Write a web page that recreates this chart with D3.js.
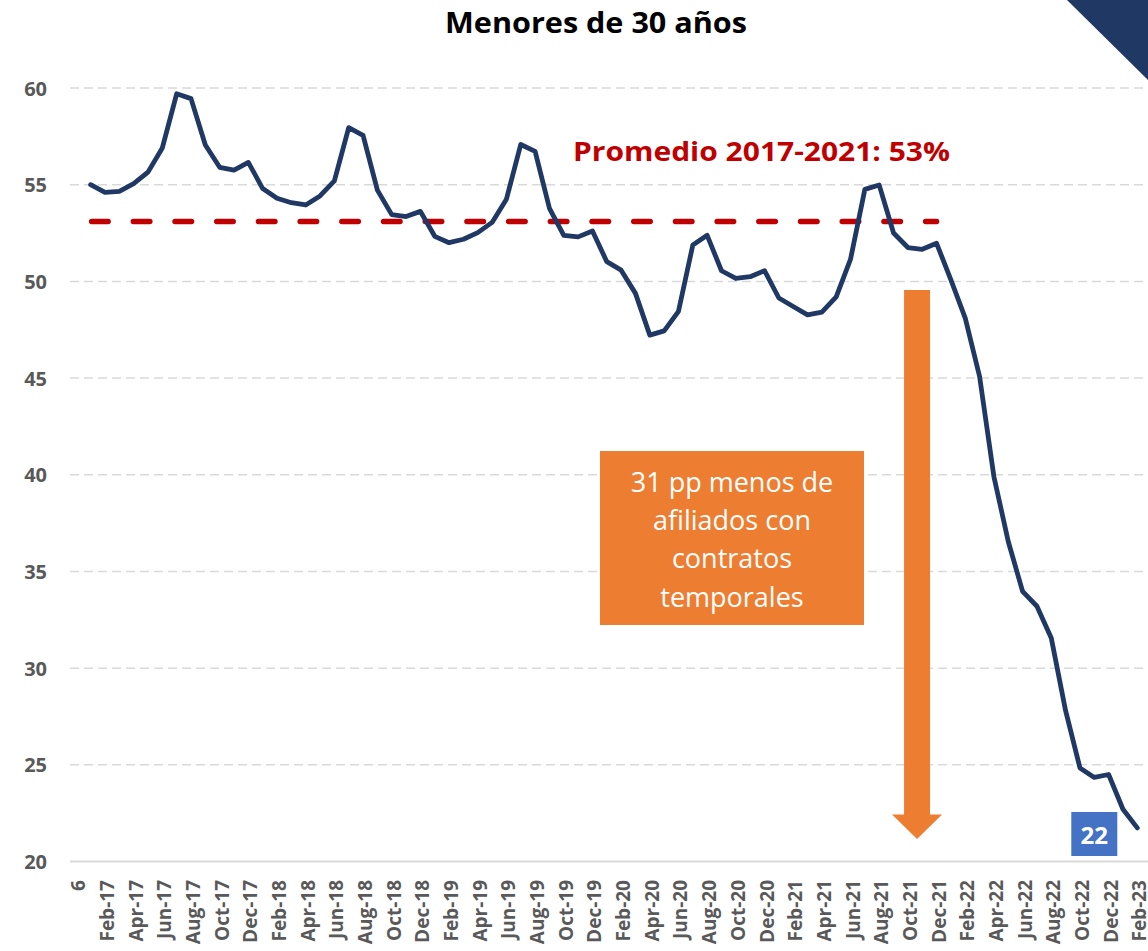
<!DOCTYPE html>
<html>
<head>
<meta charset="utf-8">
<script src="https://cdn.jsdelivr.net/npm/d3@7"></script>
<style>
  html, body { margin: 0; padding: 0; background: #fff; }
  svg { display: block; font-family: "Open Sans", "Noto Sans", sans-serif; }
</style>
</head>
<body>
<svg id="chart" width="1148" height="951"></svg>
<script>
// ---- data ----
const categories = [
  "Dec-16",
  "Jan-17","Feb-17","Mar-17","Apr-17","May-17","Jun-17","Jul-17","Aug-17","Sep-17","Oct-17","Nov-17","Dec-17",
  "Jan-18","Feb-18","Mar-18","Apr-18","May-18","Jun-18","Jul-18","Aug-18","Sep-18","Oct-18","Nov-18","Dec-18",
  "Jan-19","Feb-19","Mar-19","Apr-19","May-19","Jun-19","Jul-19","Aug-19","Sep-19","Oct-19","Nov-19","Dec-19",
  "Jan-20","Feb-20","Mar-20","Apr-20","May-20","Jun-20","Jul-20","Aug-20","Sep-20","Oct-20","Nov-20","Dec-20",
  "Jan-21","Feb-21","Mar-21","Apr-21","May-21","Jun-21","Jul-21","Aug-21","Sep-21","Oct-21","Nov-21","Dec-21",
  "Jan-22","Feb-22","Mar-22","Apr-22","May-22","Jun-22","Jul-22","Aug-22","Sep-22","Oct-22","Nov-22","Dec-22",
  "Jan-23","Feb-23"
];
// tick labels shown (every second category); first one appears clipped as "6"
const tickLabels = {"Dec-16": "6"};
const values = [
  null,
  55.0, 54.6, 54.65, 55.05, 55.65, 56.9, 59.7, 59.45, 57.05, 55.9, 55.75, 56.15,
  54.8, 54.3, 54.07, 53.95, 54.42, 55.2, 57.95, 57.55, 54.72, 53.45, 53.35, 53.62,
  52.33, 52.0, 52.18, 52.52, 53.05, 54.25, 57.08, 56.72, 53.78, 52.38, 52.3, 52.6,
  51.02, 50.58, 49.38, 47.22, 47.44, 48.45, 51.88, 52.38, 50.55, 50.15, 50.24, 50.55,
  49.14, 48.7, 48.27, 48.41, 49.2, 51.15, 54.76, 54.98, 52.5, 51.75, 51.66, 51.97,
  50.08, 48.1, 45.08, 39.9, 36.55, 33.97, 33.2, 31.56, 27.8, 24.84, 24.35, 24.5,
  22.7, 21.74
];
const yTicks = [20, 25, 30, 35, 40, 45, 50, 55, 60];
const averageValue = 53.1;
const averageRange = ["Jan-17", "Dec-21"];
const averageLabel = "Promedio 2017-2021: 53%";
const title = "Menores de 30 años";
const boxLines = ["31 pp menos de", "afiliados con", "contratos", "temporales"];
const lastLabel = "22";

// ---- layout ----
const svg = d3.select("#chart");
const x = d3.scalePoint().domain(categories).range([76.3, 1137.3]);
const y = d3.scaleLinear().domain([20, 60]).range([861.5, 88]);
const gridX0 = 70, gridX1 = 1148;
const labelGray = "#595959";

// corner triangle
svg.append("polygon")
  .attr("points", "1067,0 1148,0 1148,80")
  .attr("fill", "#203864");

// title
svg.append("text")
  .attr("x", 596).attr("y", 33)
  .attr("text-anchor", "middle")
  .attr("font-size", 28).attr("font-weight", 700)
  .attr("fill", "#000")
  .attr("textLength", 302).attr("lengthAdjust", "spacingAndGlyphs")
  .text(title);

// gridlines
svg.append("g").selectAll("line")
  .data(yTicks.filter(d => d !== 20))
  .join("line")
  .attr("x1", gridX0).attr("x2", gridX1)
  .attr("y1", d => y(d)).attr("y2", d => y(d))
  .attr("stroke", "#D9D9D9").attr("stroke-width", 1.5)
  .attr("stroke-dasharray", "9,5");

// baseline axis
svg.append("line")
  .attr("x1", gridX0).attr("x2", gridX1)
  .attr("y1", y(20)).attr("y2", y(20))
  .attr("stroke", "#D9D9D9").attr("stroke-width", 2);

// y-axis labels
const yAxis = d3.axisLeft(y).tickValues(yTicks).tickSize(0).tickPadding(0).tickFormat(d3.format("d"));
const yg = svg.append("g").attr("transform", "translate(47,0)").call(yAxis);
yg.select(".domain").remove();
yg.selectAll("text")
  .attr("font-family", "'Open Sans', sans-serif")
  .attr("font-size", 20).attr("font-weight", 700)
  .attr("fill", labelGray).attr("dy", "0.35em");

// x-axis labels (every second category)
const shown = categories.filter((c, i) => i % 2 === 0);
svg.append("g").selectAll("text")
  .data(shown)
  .join("text")
  .attr("transform", d => `translate(${x(d) + 9},880) rotate(-90)`)
  .attr("text-anchor", "end")
  .attr("font-size", 19).attr("font-weight", 700)
  .attr("fill", labelGray)
  .text(d => tickLabels[d] || d);

// average dashed line
svg.append("line")
  .attr("x1", x(averageRange[0]) + 1).attr("x2", x(averageRange[1]))
  .attr("y1", y(averageValue)).attr("y2", y(averageValue))
  .attr("stroke", "#C00000").attr("stroke-width", 5.5)
  .attr("stroke-linecap", "round")
  .attr("stroke-dasharray", "16.5,25.2");

svg.append("text")
  .attr("x", 573).attr("y", 161)
  .attr("font-size", 27).attr("font-weight", 700)
  .attr("fill", "#C00000")
  .attr("textLength", 377).attr("lengthAdjust", "spacingAndGlyphs")
  .text(averageLabel);

// orange annotation box
const boxX0 = 600, boxX1 = 864, boxY0 = 451, boxY1 = 625;
svg.append("rect")
  .attr("x", boxX0).attr("y", boxY0)
  .attr("width", boxX1 - boxX0).attr("height", boxY1 - boxY0)
  .attr("fill", "#ED7D31");
svg.append("g").selectAll("text")
  .data(boxLines)
  .join("text")
  .attr("x", (boxX0 + boxX1) / 2)
  .attr("y", (d, i) => 491.5 + i * 38.4)
  .attr("text-anchor", "middle")
  .attr("font-size", 27)
  .attr("fill", "#fff")
  .text(d => d);

// orange arrow
const ax = (x("Oct-21") + x("Nov-21")) / 2 + 2;
const aTop = y(49.55), aHeadBase = 814.5, aTip = 839;
svg.append("polygon")
  .attr("points", [
    [ax - 13, aTop], [ax + 13, aTop], [ax + 13, aHeadBase], [ax + 25, aHeadBase],
    [ax, aTip], [ax - 25, aHeadBase], [ax - 13, aHeadBase]
  ].map(p => p.join(",")).join(" "))
  .attr("fill", "#ED7D31");

// main line
const line = d3.line()
  .defined(d => d.v !== null)
  .x(d => x(d.c)).y(d => y(d.v));
const data = categories.map((c, i) => ({c, v: values[i]}));
svg.append("path")
  .datum(data)
  .attr("d", line)
  .attr("fill", "none")
  .attr("stroke", "#203864")
  .attr("stroke-width", 4.8)
  .attr("stroke-linejoin", "round")
  .attr("stroke-linecap", "round");

// last value label box
const last = categories[categories.length - 1];
const lbx = x(last) - 43;
svg.append("rect")
  .attr("x", lbx - 23).attr("y", 812)
  .attr("width", 46).attr("height", 44)
  .attr("fill", "#4472C4");
svg.append("text")
  .attr("x", lbx).attr("y", 844)
  .attr("text-anchor", "middle")
  .attr("font-size", 24).attr("font-weight", 700)
  .attr("fill", "#fff")
  .text(lastLabel);
</script>
</body>
</html>
